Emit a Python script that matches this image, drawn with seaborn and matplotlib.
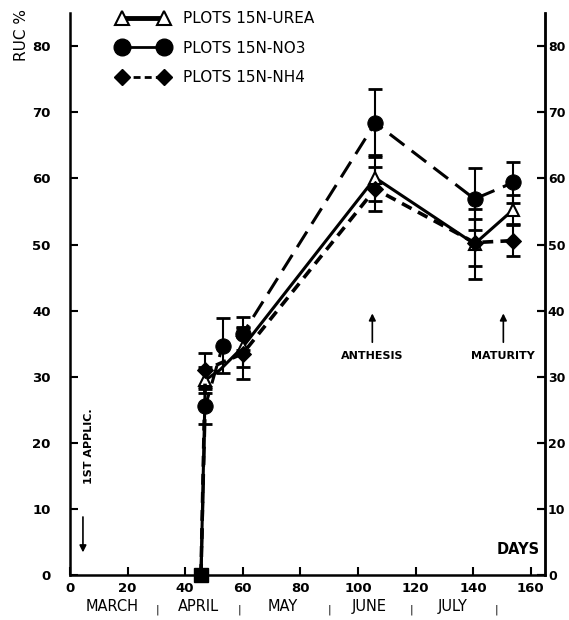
import matplotlib
matplotlib.use("Agg")
import matplotlib.pyplot as plt
from matplotlib.lines import Line2D
import seaborn as sns
import numpy as np
import pandas as pd

sns.set_theme(style="white")
plt.rcParams['font.family'] = ['DejaVu Sans']
plt.rcParams['text.color'] = 'black'
plt.rcParams['axes.labelcolor'] = 'black'

# ---- data ----
days_urea = [45.5, 47, 52, 60, 106, 140.5, 154]
urea_vals = [0, 29.5, 31.0, 34.5, 60.1, 50.1, 55.3]
urea_err = [0, 2.0, 0, 3.1, 3.5, 5.3, 2.2]

days_no3 = [45.5, 47, 53, 60, 106, 140.5, 154]
no3_vals = [0, 25.5, 34.7, 36.5, 68.4, 56.9, 59.4]
no3_err = [0, 2.6, 4.2, 2.5, 5.1, 4.7, 3.1]

days_nh4 = [45.5, 47, 52, 60, 106, 140.5, 154]
nh4_vals = [0, 31.0, 32.0, 33.5, 58.4, 50.3, 50.6]
nh4_err = [0, 2.6, 0, 3.8, 3.3, 3.5, 2.3]

legend_labels = ["PLOTS 15N-UREA", "PLOTS 15N-NO3", "PLOTS 15N-NH4"]
x_ticks = [0, 20, 40, 60, 80, 100, 120, 140, 160]
y_ticks = [0, 10, 20, 30, 40, 50, 60, 70, 80]
months = ["MARCH", "APRIL", "MAY", "JUNE", "JULY"]
month_centers = [14.8, 44.5, 74, 104, 133]
month_seps = [30.3, 59, 90, 118.7, 148]

fig = plt.figure(figsize=(5.69, 6.2), dpi=100)
ax = fig.add_axes([0.123, 0.0726, 0.835, 0.906])

k = 'black'
# urea: solid, open triangles (no marker on intermediate point)
sns.lineplot(x=days_urea, y=urea_vals, ax=ax, color=k, lw=2.2, sort=False,
             marker='^', markersize=9, markerfacecolor='white', markeredgecolor=k,
             markeredgewidth=1.5, markevery=[1, 3, 4, 5, 6], zorder=4)
# no3: long dashes, filled circles
sns.lineplot(x=days_no3, y=no3_vals, ax=ax, color=k, lw=2.2, sort=False,
             dashes=(6, 3), marker='o', markersize=11, markerfacecolor=k,
             markeredgecolor=k, markevery=[1, 2, 3, 4, 5, 6], zorder=5)
# nh4: short dashes, filled diamonds
sns.lineplot(x=days_nh4, y=nh4_vals, ax=ax, color=k, lw=2.6, sort=False,
             dashes=(3, 2), marker='D', markersize=8, markerfacecolor=k,
             markeredgecolor=k, markevery=[1, 3, 4, 5, 6], zorder=4)

for d, v, e in [(days_urea, urea_vals, urea_err), (days_no3, no3_vals, no3_err),
                (days_nh4, nh4_vals, nh4_err)]:
    d = np.array(d); v = np.array(v); e = np.array(e)
    m = e > 0
    ax.errorbar(d[m], v[m], yerr=e[m], fmt='none', ecolor=k, elinewidth=1.5,
                capsize=5, capthick=2, zorder=3)

# zero point marker
ax.plot([days_no3[0]], [no3_vals[0]], marker='s', color=k, markersize=10,
        clip_on=False, zorder=6)

ax.set_xlim(0, 165)
ax.set_ylim(0, 85)
ax.set_xticks(x_ticks)
ax.set_yticks(y_ticks)
ax.set_xlabel("")
ax.set_ylabel("")
for s in ax.spines.values():
    s.set_color(k)
    s.set_linewidth(1.8)
ax.spines['top'].set_visible(False)
ax.tick_params(axis='both', direction='in', length=6, width=1.5, colors=k,
               labelsize=9.5)
ax.tick_params(axis='y', left=True, right=True, labelleft=True, labelright=False,
               pad=14)
ax.tick_params(axis='x', bottom=True, pad=5)
for lab in ax.get_xticklabels() + ax.get_yticklabels():
    lab.set_fontweight('bold')

# right-hand labels
sec = ax.secondary_yaxis('right')
sec.set_yticks(y_ticks)
sec.tick_params(direction='in', length=6, width=1.5, colors=k, labelsize=9, pad=2)
sec.spines['right'].set_linewidth(1.8)
for lab in sec.get_yticklabels():
    lab.set_fontweight('bold')

# legend
handles = [
    Line2D([0], [0], color=k, lw=3.5, marker='^', markersize=10,
           markerfacecolor='white', markeredgecolor=k, markeredgewidth=1.5),
    Line2D([0], [0], color=k, lw=2, marker='o', markersize=12,
           markerfacecolor=k, markeredgecolor=k),
    Line2D([0], [0], color=k, lw=2, ls=(0, (2.5, 1.5)), marker='D', markersize=8,
           markerfacecolor=k, markeredgecolor=k),
]
leg = ax.legend(handles, legend_labels, loc='upper left', bbox_to_anchor=(0.07, 1.028),
                frameon=False, numpoints=2, handlelength=3.4, fontsize=11,
                labelspacing=0.95, handletextpad=0.9, labelcolor=k)

# annotations
txt = dict(fontsize=8, fontweight='bold', color=k, ha='center', va='center')
ax.annotate("", xy=(105, 40), xytext=(105, 34.8),
            arrowprops=dict(arrowstyle='-|>', color=k, lw=1.2, mutation_scale=10))
ax.text(105, 33.2, "ANTHESIS", **txt)
ax.annotate("", xy=(150.5, 40), xytext=(150.5, 34.8),
            arrowprops=dict(arrowstyle='-|>', color=k, lw=1.2, mutation_scale=10))
ax.text(150.5, 33.2, "MATURITY", **txt)
ax.annotate("", xy=(4.5, 3.0), xytext=(4.5, 9.2),
            arrowprops=dict(arrowstyle='-|>', color=k, lw=1.2, mutation_scale=10))
ax.text(6.6, 19.5, "1ST APPLIC.", rotation=90, **txt)
ax.text(163, 3.8, "DAYS", fontsize=10.5, fontweight='bold', color=k,
        ha='right', va='center')

fig.text(0.037, 0.944, "RUC %", rotation=90, fontsize=11, color=k,
         ha='center', va='center')

# months
for m, c in zip(months, month_centers):
    ax.text(c, -0.056, m, transform=ax.get_xaxis_transform(), fontsize=10.5,
            color=k, ha='center', va='center')
for sx in month_seps:
    ax.text(sx, -0.062, "|", transform=ax.get_xaxis_transform(), fontsize=8,
            color=k, ha='center', va='center')

fig.savefig("out.png", dpi=100)
